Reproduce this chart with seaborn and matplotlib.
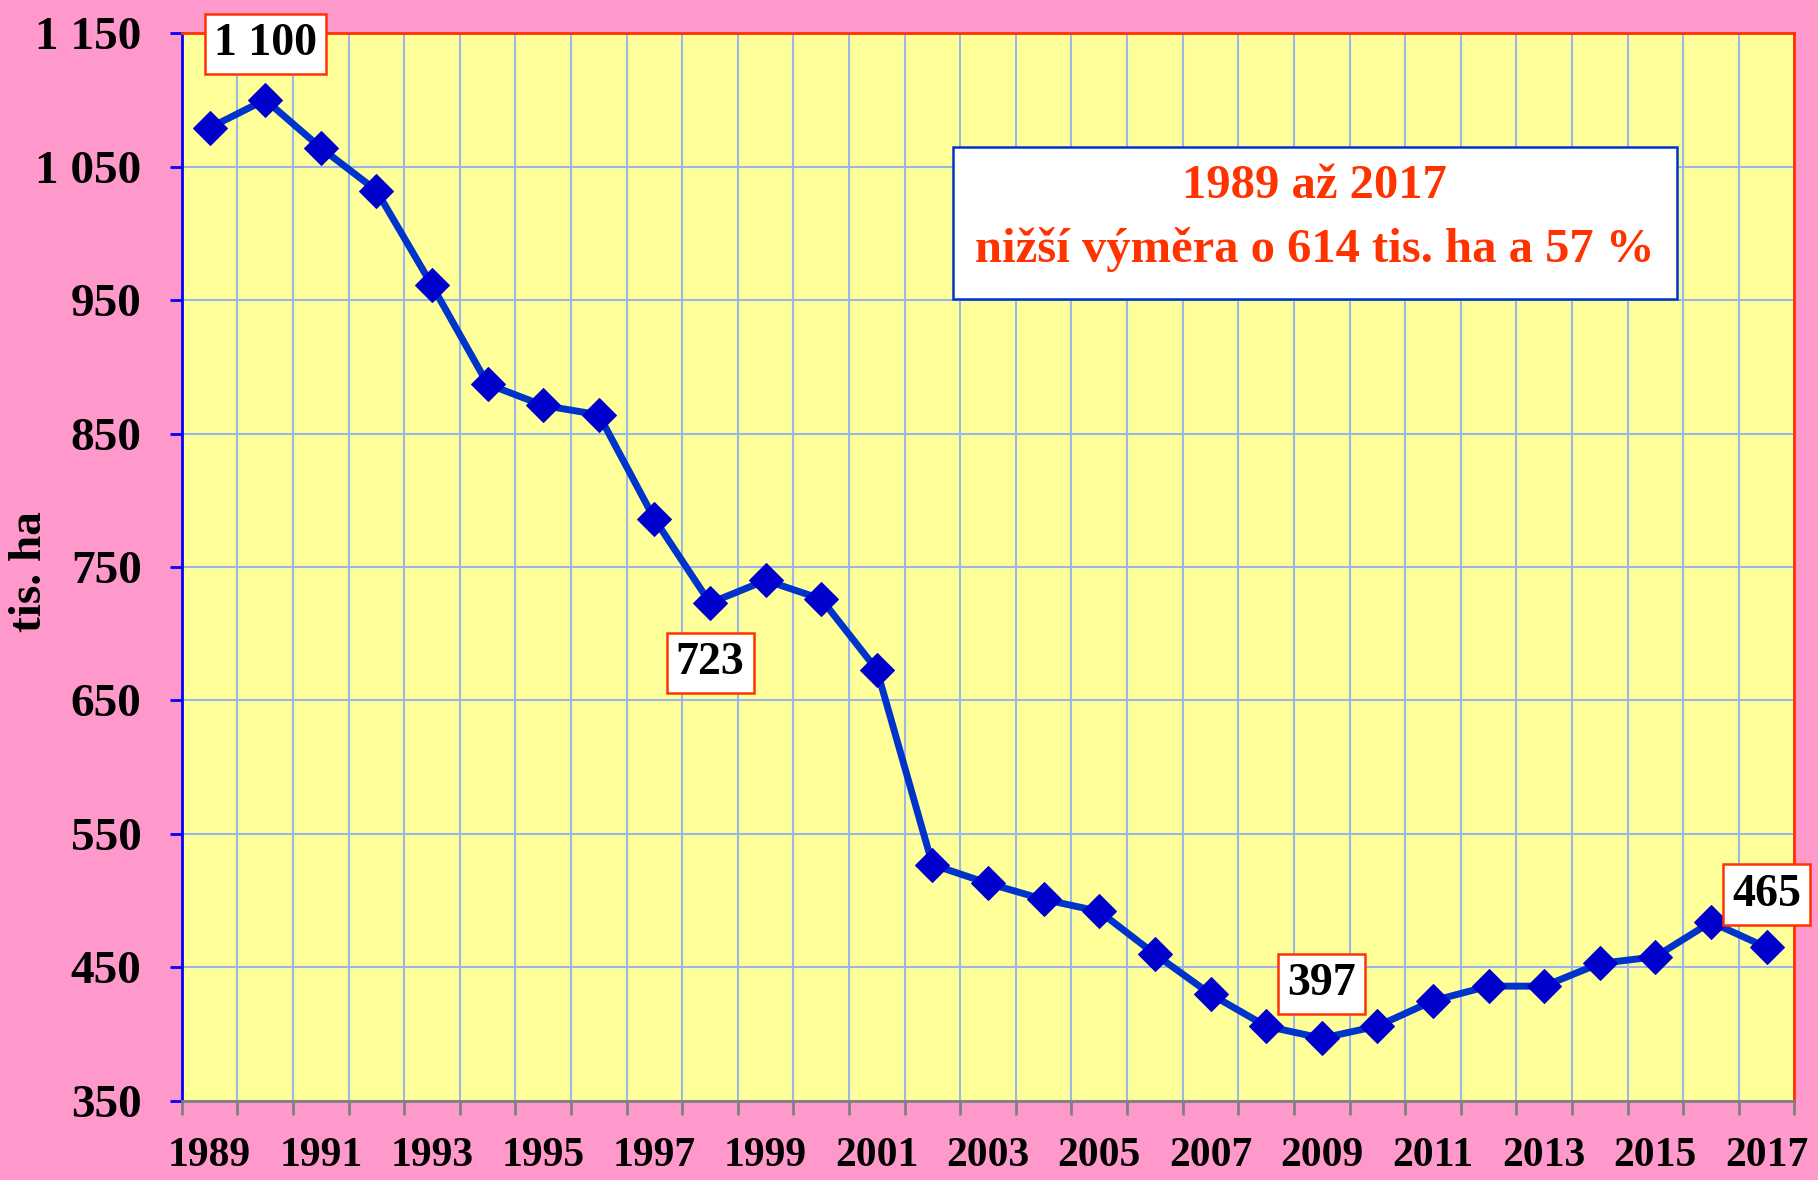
import numpy as np
import pandas as pd
import matplotlib
matplotlib.use("Agg")
import matplotlib.pyplot as plt
import seaborn as sns
from matplotlib.patches import Rectangle
from matplotlib.ticker import FixedLocator

# data
roky = list(range(1989, 2018))
vymera = [1079, 1100, 1064, 1032, 961, 887, 871, 864, 786, 723,
          740, 726, 673, 527, 513, 501, 492, 460, 430, 406,
          397, 406, 425, 436, 436, 453, 458, 484, 465]
popisky_roky = [1990, 1998, 2009, 2017]
popisky_text = ["1 100", "723", "397", "465"]
popisky_offset = [40, -43, 39, 38]   # points above/below the point
y_ticks = [350, 450, 550, 650, 750, 850, 950, 1050, 1150]
y_tick_labels = ["350", "450", "550", "650", "750", "850", "950", "1 050", "1 150"]
x_tick_roky = list(range(1989, 2018, 2))
info_radky = ["1989 až 2017", "nižší výměra o 614 tis. ha a 57 %"]

PINK = "#FF99CC"
YELLOW = "#FFFF99"
GRID = "#99B8E8"
RED = "#FF3300"
LINE = "#0033CC"
MARK = "#0000CC"

sns.set_style("white")
plt.rcParams["font.family"] = ["Liberation Serif", "DejaVu Serif"]
plt.rcParams["font.weight"] = "bold"
plt.rcParams["text.color"] = "black"
plt.rcParams["axes.labelcolor"] = "black"
plt.rcParams["xtick.labelcolor"] = "black"
plt.rcParams["ytick.labelcolor"] = "black"

df = pd.DataFrame({"rok": roky, "vymera": vymera})

fig = plt.figure(figsize=(18.18, 11.80), dpi=100, facecolor=PINK)
ax = fig.add_axes([0.100, 0.067, 0.887, 0.905])
ax.set_facecolor(YELLOW)

sns.lineplot(data=df, x="rok", y="vymera", ax=ax, color=LINE, linewidth=5,
             marker="D", markersize=17, markerfacecolor=MARK,
             markeredgecolor=MARK, zorder=3)

ax.set_xlim(1988.5, 2017.5)
ax.set_ylim(350, 1150)

# y axis
ax.set_yticks(y_ticks)
ax.set_yticklabels(y_tick_labels, fontsize=34, fontweight="bold", color="black")
ax.tick_params(axis="y", which="major", direction="out", length=9, width=2,
               color="#0000FF", pad=20, left=True)
ax.set_ylabel("tis. ha", fontsize=34, fontweight="bold", va="center", color="black")
ax.yaxis.set_label_coords(-0.094, 0.496)

# x axis: labels centred on years, ticks/grid on category borders
ax.set_xticks(x_tick_roky)
ax.set_xticklabels([str(r) for r in x_tick_roky], fontsize=30, fontweight="bold",
                   color="black")
ax.tick_params(axis="x", which="major", length=0, pad=26)
ax.xaxis.set_minor_locator(FixedLocator(np.arange(1988.5, 2018, 1.0)))
ax.tick_params(axis="x", which="minor", direction="out", length=10, width=2,
               color="#808080", bottom=True)
ax.set_xlabel("")

ax.grid(False)
ax.grid(which="major", axis="y", color=GRID, linewidth=1.5, zorder=0)
ax.grid(which="minor", axis="x", color=GRID, linewidth=1.5, zorder=0)
ax.set_axisbelow(True)

ax.spines["top"].set_color(RED)
ax.spines["right"].set_color(RED)
ax.spines["left"].set_color("#0000FF")
ax.spines["bottom"].set_color("#808080")
for s in ax.spines.values():
    s.set_linewidth(2)

# point labels
for rok, txt, off in zip(popisky_roky, popisky_text, popisky_offset):
    val = vymera[roky.index(rok)]
    ax.annotate(txt, xy=(rok, val), xytext=(0, off), textcoords="offset points",
                ha="center", va="center", fontsize=33, fontweight="bold",
                color="black", zorder=5, annotation_clip=False,
                bbox=dict(boxstyle="square,pad=0.2", facecolor="white",
                          edgecolor=RED, linewidth=1.8))

# info box
ax.add_patch(Rectangle((0.478, 0.751), 0.449, 0.142, transform=ax.transAxes,
                       facecolor="white", edgecolor=LINE, linewidth=1.8, zorder=4))
ax.text(0.7025, 0.857, info_radky[0], transform=ax.transAxes, ha="center",
        va="center", fontsize=35, fontweight="bold", color=RED, zorder=5)
ax.text(0.7025, 0.797, info_radky[1], transform=ax.transAxes, ha="center",
        va="center", fontsize=35, fontweight="bold", color=RED, zorder=5)

fig.savefig("out.png", dpi=100, facecolor=PINK)
